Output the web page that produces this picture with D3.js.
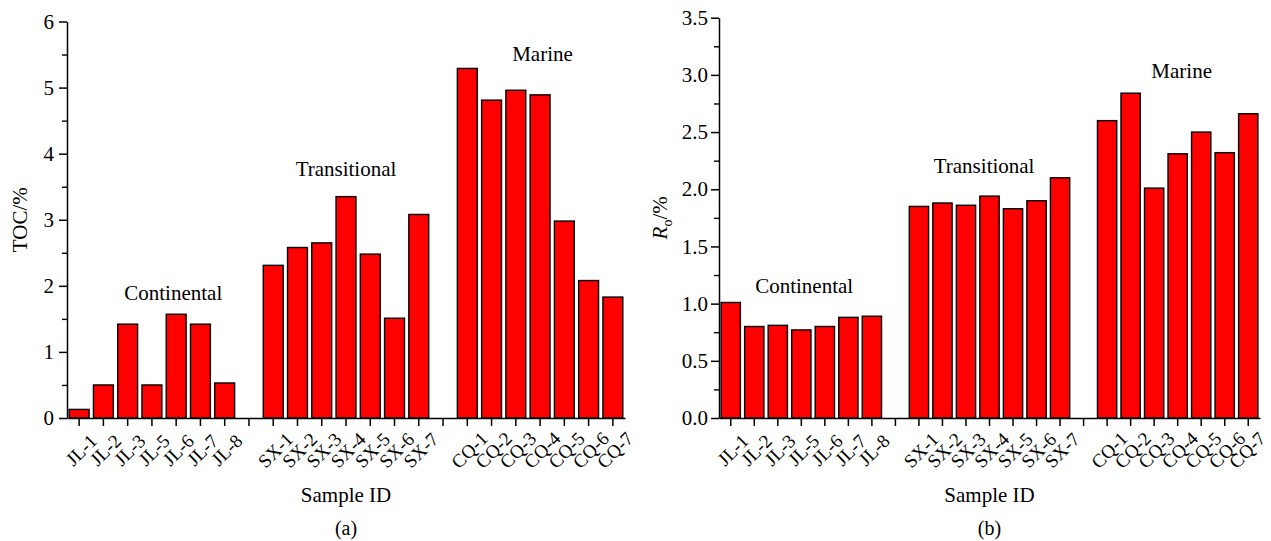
<!DOCTYPE html>
<html>
<head>
<meta charset="utf-8">
<script src="https://cdn.jsdelivr.net/npm/d3@7"></script>
<style>
  html, body { margin: 0; padding: 0; background: #fff; }
</style>
</head>
<body>
<svg id="chart" width="1271" height="541"></svg>
<script>
// sample groups (the empty slots between groups are gaps on the axis)
const jlSamples = ['JL-1', 'JL-2', 'JL-3', 'JL-5', 'JL-6', 'JL-7', 'JL-8'];
const sxSamples = ['SX-1', 'SX-2', 'SX-3', 'SX-4', 'SX-5', 'SX-6', 'SX-7'];
const cqSamples = ['CQ-1', 'CQ-2', 'CQ-3', 'CQ-4', 'CQ-5', 'CQ-6', 'CQ-7'];
const slots = [...jlSamples, 'gap-1', ...sxSamples, 'gap-2', ...cqSamples];

// TOC (%)
const tocJL = [0.13, 0.50, 1.42, 0.50, 1.57, 1.42, 0.53];
const tocSX = [2.31, 2.58, 2.65, 3.35, 2.48, 1.51, 3.08];
const tocCQ = [5.29, 4.81, 4.96, 4.89, 2.98, 2.08, 1.83];

// Ro (%)
const roJL = [1.01, 0.80, 0.81, 0.77, 0.80, 0.88, 0.89];
const roSX = [1.85, 1.88, 1.86, 1.94, 1.83, 1.90, 2.10];
const roCQ = [2.60, 2.84, 2.01, 2.31, 2.50, 2.32, 2.66];

const tocTicks = [0, 1, 2, 3, 4, 5, 6];
const roTicks = [0, 0.5, 1.0, 1.5, 2.0, 2.5, 3.0, 3.5];

// group annotations: slot index (fractional) and value where the baseline sits
const tocNotes = [
  { text: 'Continental', slot: 3.88, value: 1.78 },
  { text: 'Transitional', slot: 11.0, value: 3.66 },
  { text: 'Marine', slot: 19.1, value: 5.40 },
];
const roNotes = [
  { text: 'Continental', slot: 3.12, value: 1.09 },
  { text: 'Transitional', slot: 10.77, value: 2.14 },
  { text: 'Marine', slot: 19.17, value: 2.97 },
];

const FONT = '"Liberation Serif", "Times New Roman", Times, "DejaVu Serif", serif';
const W = 1271;

function toRows(a, b, c) {
  const vals = [...a, ...b, ...c];
  const ids = [...jlSamples, ...sxSamples, ...cqSamples];
  return ids.map((id, i) => ({ id, value: vals[i] }));
}

const svg = d3.select('#chart');

function drawPanel(opt) {
  const g = svg.append('g');
  const { left, right, top, bottom } = opt;

  const x = d3.scaleBand().domain(slots).range([left, right]).paddingInner(0.18).paddingOuter(0.09);
  const xc = d3.scaleBand().domain(slots).range([left, right]);
  const y = d3.scaleLinear().domain(opt.domain).range([bottom, top]);
  const idx = d3.scaleLinear().domain([0, slots.length - 1])
    .range([xc(slots[0]) + xc.bandwidth() / 2, xc(slots[slots.length - 1]) + xc.bandwidth() / 2]);

  // bars
  g.selectAll('rect.bar')
    .data(opt.rows)
    .enter()
    .append('rect')
    .attr('class', 'bar')
    .attr('x', (d) => xc(d.id) + (xc.bandwidth() - x.bandwidth()) / 2)
    .attr('y', (d) => y(d.value))
    .attr('width', x.bandwidth())
    .attr('height', (d) => y(0) - y(d.value))
    .attr('fill', '#ff0000')
    .attr('stroke', '#000')
    .attr('stroke-width', 1.4);

  // minor y ticks
  g.append('g')
    .attr('transform', `translate(${left},0)`)
    .call(d3.axisLeft(y).tickValues(opt.minor).tickSize(5).tickFormat(''))
    .call((a) => a.select('.domain').remove())
    .call((a) => a.selectAll('line').attr('stroke-width', 1.4));

  // y axis
  const yAxis = g.append('g')
    .attr('transform', `translate(${left},0)`)
    .call(d3.axisLeft(y).tickValues(opt.ticks).tickSize(8).tickSizeOuter(0)
      .tickPadding(opt.tickPad).tickFormat(opt.fmt));
  yAxis.attr('font-family', null).attr('font-size', null);
  yAxis.select('.domain').attr('stroke-width', 1.5);
  yAxis.selectAll('line').attr('stroke-width', 1.5);
  yAxis.selectAll('text').style('font-family', FONT).style('font-size', '21px').attr('fill', '#000');

  // x axis
  const xAxis = g.append('g')
    .attr('transform', `translate(0,${bottom})`)
    .call(d3.axisBottom(xc).tickSize(8).tickSizeOuter(0).tickFormat(''));
  xAxis.select('.domain').attr('stroke-width', 1.5);
  xAxis.selectAll('line').attr('stroke-width', 1.5);

  // rotated sample labels (kept inside the page on the far right)
  g.selectAll('text.sample')
    .data(slots.filter((s) => !s.startsWith('gap')))
    .enter()
    .append('text')
    .attr('class', 'sample')
    .attr('transform', (d) => {
      const cx = Math.min(xc(d) + xc.bandwidth() / 2 + 2, W - 24);
      return `translate(${cx},${bottom + 32}) rotate(-45)`;
    })
    .attr('text-anchor', 'middle')
    .attr('dy', '0.35em')
    .style('font-family', FONT)
    .style('font-size', '19px')
    .text((d) => d);

  // group notes
  g.selectAll('text.note')
    .data(opt.notes)
    .enter()
    .append('text')
    .attr('class', 'note')
    .attr('x', (d) => idx(d.slot))
    .attr('y', (d) => y(d.value))
    .attr('text-anchor', 'middle')
    .style('font-family', FONT)
    .style('font-size', '21px')
    .text((d) => d.text);

  // axis titles
  g.append('text')
    .attr('x', (left + right) / 2)
    .attr('y', 502)
    .attr('text-anchor', 'middle')
    .style('font-family', FONT)
    .style('font-size', '21px')
    .text('Sample ID');

  g.append('text')
    .attr('x', (left + right) / 2)
    .attr('y', 535)
    .attr('text-anchor', 'middle')
    .style('font-family', FONT)
    .style('font-size', '20px')
    .text(opt.panel);

  const yt = g.append('text')
    .attr('transform', `translate(${opt.titleX},${(top + bottom) / 2}) rotate(-90)`)
    .attr('text-anchor', 'middle')
    .style('font-family', FONT)
    .style('font-size', '21px');
  opt.title(yt);
}

drawPanel({
  left: 67, right: 625, top: 21.5, bottom: 418,
  domain: [0, 6], ticks: tocTicks, minor: d3.range(0.5, 6, 1),
  fmt: d3.format('d'), tickPad: 5,
  rows: toRows(tocJL, tocSX, tocCQ), notes: tocNotes,
  panel: '(a)', titleX: 27,
  title: (t) => t.text('TOC/%'),
});

drawPanel({
  left: 719, right: 1260, top: 17.7, bottom: 418,
  domain: [0, 3.5], ticks: roTicks, minor: d3.range(0.25, 3.5, 0.5),
  fmt: d3.format('.1f'), tickPad: 3,
  rows: toRows(roJL, roSX, roCQ), notes: roNotes,
  panel: '(b)', titleX: 667,
  title: (t) => {
    t.append('tspan').style('font-style', 'italic').text('R');
    t.append('tspan').attr('dy', 5).style('font-size', '14px').text('o');
    t.append('tspan').attr('dy', -5).text('/%');
  },
});
</script>
</body>
</html>
